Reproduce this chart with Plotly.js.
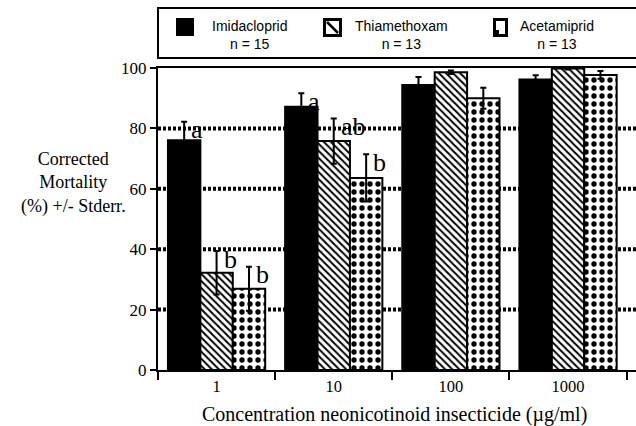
<!DOCTYPE html>
<html>
<head>
<meta charset="utf-8">
<script src="https://cdn.plot.ly/plotly-3.0.1.min.js"></script>
<style>html,body{margin:0;padding:0;background:#fff;}#chart{width:636px;height:426px;}</style>
</head>
<body>
<div id="chart"></div>
<script>
// ---- data ----
const concentrations = ['1', '10', '100', '1000'];
const seriesNames = ['Imidacloprid', 'Thiamethoxam', 'Acetamiprid'];
const sampleSizes = ['n = 15', 'n = 13', 'n = 13'];
const imidaclopridMean = [76.1, 87.2, 94.4, 96.2];
const imidaclopridErr  = [6.1, 4.4, 2.6, 1.4];
const thiamethoxamMean = [32.2, 75.8, 98.6, 99.8];
const thiamethoxamErr  = [7.2, 7.5, 0.6, 0.3];
const acetamipridMean  = [26.9, 63.6, 90.0, 97.7];
const acetamipridErr   = [7.3, 7.8, 3.5, 1.3];
// significance letters per series per concentration ('' = none)
const imidaclopridLetters = ['a', 'a', '', ''];
const thiamethoxamLetters = ['b', 'ab', '', ''];
const acetamipridLetters  = ['b', 'b', '', ''];
const yTicks = [0, 20, 40, 60, 80, 100];
const gridValues = [20, 40, 60, 80];
const yTitle = 'Corrected<br>Mortality<br>(%) +/- Stderr.';
const xTitle = 'Concentration neonicotinoid insecticide (\u00b5g/ml)';

// ---- layout geometry ----
const W = 636, H = 426;
const M = {l: 158, r: 0, t: 68, b: 56};
const PW = W - M.l - M.r, PH = H - M.t - M.b;
const px = x => (x - M.l) / PW;          // pixel -> paper x
const py = y => (H - M.b - y) / PH;      // pixel -> paper y
const bargap = 0.17;
const barW = (1 - bargap) / 3;

const serif = 'Liberation Serif';
const sans = 'Liberation Sans';

const means = [imidaclopridMean, thiamethoxamMean, acetamipridMean];
const errs = [imidaclopridErr, thiamethoxamErr, acetamipridErr];
const letters = [imidaclopridLetters, thiamethoxamLetters, acetamipridLetters];
const markers = [
  {color: '#000', line: {color: '#000', width: 2}},
  {color: '#fff', line: {color: '#000', width: 2},
   pattern: {shape: '\\', fgcolor: '#000', bgcolor: '#fff', size: 5, solidity: 0.4, fillmode: 'replace'}},
  {color: '#fff', line: {color: '#000', width: 2},
   pattern: {shape: '.', fgcolor: '#000', bgcolor: '#fff', size: 8, solidity: 0.35, fillmode: 'replace'}}
];

const traces = means.map((m, s) => ({
  type: 'bar',
  name: seriesNames[s],
  x: concentrations,
  y: m,
  marker: markers[s],
  error_y: {type: 'data', array: errs[s], visible: true, color: '#000', thickness: 2, width: 3},
  cliponaxis: false,
  showlegend: false,
  hoverinfo: 'skip'
}));

const annotations = [];
letters.forEach((arr, s) => {
  arr.forEach((t, i) => {
    if (!t) return;
    annotations.push({
      x: i + (s - 1) * barW, y: means[s][i] + errs[s][i], xref: 'x', yref: 'y',
      text: t, showarrow: false, xanchor: 'left', yanchor: 'middle',
      xshift: 5, yshift: -8,
      font: {family: serif, size: 26, color: '#000'}
    });
  });
});

// y-axis title
annotations.push({
  xref: 'paper', yref: 'paper', x: px(73), y: py(183),
  text: yTitle, showarrow: false, xanchor: 'center', yanchor: 'middle', align: 'center',
  font: {family: serif, size: 18, color: '#000'}
});
// x-axis title
annotations.push({
  xref: 'paper', yref: 'paper', x: px(394), y: py(414),
  text: xTitle, showarrow: false,
  xanchor: 'center', yanchor: 'middle',
  font: {family: serif, size: 20, color: '#000'}
});

// custom legend
const legendCenters = [249, 401, 557];
seriesNames.forEach((n, s) => {
  annotations.push({
    xref: 'paper', yref: 'paper', x: px(legendCenters[s]), y: py(35),
    text: n + '<br>' + sampleSizes[s], showarrow: false,
    xanchor: 'center', yanchor: 'middle', align: 'center',
    font: {family: sans, size: 14, color: '#000'}
  });
});

const rect = (x0, y0, x1, y1, fill, extra) => Object.assign({
  type: 'rect', xref: 'paper', yref: 'paper',
  x0: px(x0), x1: px(x1), y0: py(y1), y1: py(y0),
  fillcolor: fill, line: {width: 0}
}, extra || {});

const shapes = [];
gridValues.forEach(v => shapes.push({
  type: 'line', xref: 'paper', yref: 'y', x0: 0, x1: 1, y0: v, y1: v,
  line: {color: '#000', width: 4, dash: '3px,2px'}, layer: 'below'
}));
// legend box
shapes.push({type: 'rect', xref: 'paper', yref: 'paper', x0: px(158), x1: px(640), y0: py(58), y1: py(8),
  line: {color: '#000', width: 2}, fillcolor: 'rgba(0,0,0,0)'});
// legend icons
shapes.push(rect(176, 18, 194, 36, '#000'));
shapes.push(rect(323, 18, 342, 37, '#000'));
shapes.push(rect(326, 21, 339, 34, '#fff'));
shapes.push({type: 'line', xref: 'paper', yref: 'paper', x0: px(327), y0: py(22), x1: px(338), y1: py(33),
  line: {color: '#000', width: 2.5}});
shapes.push(rect(493, 18, 508, 37, '#000'));
shapes.push(rect(496, 21, 505, 30, '#fff'));
shapes.push(rect(499, 30, 505, 34, '#fff'));

const layout = {
  width: W, height: H,
  margin: M,
  paper_bgcolor: '#fff', plot_bgcolor: '#fff',
  barmode: 'group', bargap: bargap, bargroupgap: 0,
  showlegend: false,
  xaxis: {
    type: 'category', range: [-0.5, 3.58],
    showline: true, linecolor: '#000', linewidth: 2, mirror: true,
    ticks: 'outside', tickson: 'boundaries', ticklen: 8, tickwidth: 2, tickcolor: '#000',
    showgrid: false, zeroline: false,
    tickfont: {family: serif, size: 16.5, color: '#000'}
  },
  yaxis: {
    range: [0, 100], tickvals: yTicks, ticktext: yTicks.map(String),
    showline: true, linecolor: '#000', linewidth: 2,
    ticks: 'outside', ticklen: 6, tickwidth: 2, tickcolor: '#000',
    showgrid: false, zeroline: false,
    tickfont: {family: serif, size: 17, color: '#000'}
  },
  shapes: shapes,
  annotations: annotations
};

Plotly.newPlot('chart', traces, layout, {staticPlot: true, displayModeBar: false});
</script>
</body>
</html>
